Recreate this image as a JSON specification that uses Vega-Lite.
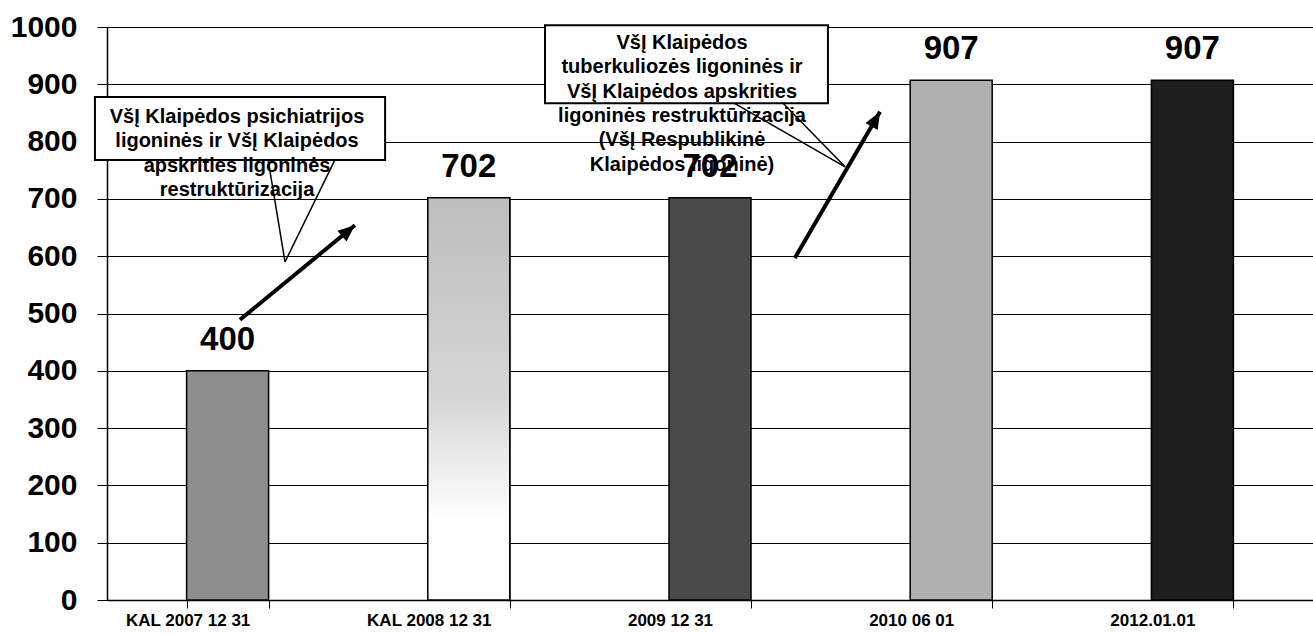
{
  "$schema": "https://vega.github.io/schema/vega-lite/v6.json",
  "autosize": {"type": "none"},
  "padding": {"left": 107, "top": 27, "right": 0, "bottom": 35},
  "width": 1206,
  "height": 573,
  "background": "white",
  "config": {
    "view": {"stroke": null},
    "font": "Liberation Sans"
  },
  "datasets": {
    "bars": [
      {"date": "KAL 2007 12 31", "beds": 400},
      {"date": "KAL 2008 12 31", "beds": 702},
      {"date": "2009 12 31", "beds": 702},
      {"date": "2010 06 01", "beds": 907},
      {"date": "2012.01.01", "beds": 907}
    ],
    "boxes": [
      {"x1": -0.05, "x2": 1.153, "y1": 768, "y2": 878},
      {"x1": 1.816, "x2": 2.989, "y1": 867, "y2": 1003}
    ],
    "notes": [
      {"x": 0.539, "y": 843, "text": "VšĮ Klaipėdos psichiatrijos\nligoninės  ir VšĮ Klaipėdos\napskrities ligoninės\nrestruktūrizacija"},
      {"x": 2.384, "y": 972, "text": "VšĮ Klaipėdos\ntuberkuliozės ligoninės  ir\nVšĮ Klaipėdos apskrities\nligoninės  restruktūrizacija\n(VšĮ Respublikinė\nKlaipėdos ligoninė)"}
    ],
    "callouts": [
      {"x": 0.668, "y": 768, "x2": 0.738, "y2": 590},
      {"x": 0.945, "y": 768, "x2": 0.738, "y2": 590},
      {"x": 2.6, "y": 867, "x2": 3.06, "y2": 756},
      {"x": 2.803, "y": 867, "x2": 3.06, "y2": 756}
    ],
    "arrows": [
      {"x": 0.551, "y": 489, "x2": 1.028, "y2": 654, "angle": 50},
      {"x": 2.852, "y": 597, "x2": 3.205, "y2": 852, "angle": 30}
    ]
  },
  "layer": [
    {
      "data": {"name": "bars"},
      "layer": [
        {
          "mark": {"type": "bar", "stroke": "black", "strokeWidth": 1.5},
          "encoding": {
            "x": {
              "field": "date", "type": "nominal", "sort": null,
              "scale": {"paddingInner": 0.66, "paddingOuter": 0.33},
              "axis": {
                "title": null, "labelAngle": 0, "labelFontSize": 17, "labelFontWeight": "bold",
                "labelColor": "black", "labelOffset": -40, "labelPadding": 4,
                "tickBand": "extent", "tickSize": 8, "tickColor": "black",
                "domainColor": "black", "domainWidth": 1.5, "grid": false
              }
            },
            "y": {
              "field": "beds", "type": "quantitative",
              "scale": {"domain": [0, 1000], "nice": false},
              "axis": {
                "title": null, "values": [0, 100, 200, 300, 400, 500, 600, 700, 800, 900, 1000],
                "format": "d",
                "labelFontSize": 30, "labelFontWeight": "bold", "labelColor": "black",
                "labelPadding": 20, "tickSize": 10, "tickColor": "black",
                "domainColor": "black", "domainWidth": 1.5,
                "grid": true, "gridColor": "black", "gridWidth": 1, "gridOpacity": 1
              }
            },
            "color": {
              "field": "date", "type": "nominal", "sort": null, "legend": null,
              "scale": {"range": ["#8e8e8e", "#d8d8d8", "#4a4a4a", "#b0b0b0", "#1e1e1e"]}
            }
          }
        },
        {
          "transform": [{"filter": "datum.date === 'KAL 2008 12 31'"}],
          "mark": {
            "type": "bar", "stroke": "black", "strokeWidth": 1.5,
            "fill": {
              "gradient": "linear", "x1": 0, "y1": 0, "x2": 0, "y2": 1,
              "stops": [
                {"offset": 0, "color": "#bdbdbd"},
                {"offset": 0.5, "color": "#d6d6d6"},
                {"offset": 0.8, "color": "#ffffff"},
                {"offset": 1, "color": "#ffffff"}
              ]
            }
          },
          "encoding": {
            "x": {"field": "date", "type": "nominal", "sort": null},
            "y": {"field": "beds", "type": "quantitative"}
          }
        }
      ]
    },
    {
      "data": {"name": "boxes"},
      "mark": {"type": "rect", "fill": "white", "stroke": "black", "strokeWidth": 2},
      "encoding": {
        "x": {"field": "x1", "type": "quantitative", "scale": {"domain": [0, 5], "nice": false, "zero": false}, "axis": null},
        "x2": {"field": "x2"},
        "y": {"field": "y1", "type": "quantitative", "scale": {"domain": [0, 1000], "nice": false, "zero": false}, "axis": null},
        "y2": {"field": "y2"}
      }
    },
    {
      "data": {"name": "callouts"},
      "mark": {"type": "rule", "stroke": "black", "strokeWidth": 1.5},
      "encoding": {
        "x": {"field": "x", "type": "quantitative", "scale": {"domain": [0, 5], "nice": false, "zero": false}, "axis": null},
        "x2": {"field": "x2"},
        "y": {"field": "y", "type": "quantitative", "scale": {"domain": [0, 1000], "nice": false, "zero": false}, "axis": null},
        "y2": {"field": "y2"}
      }
    },
    {
      "data": {"name": "notes"},
      "mark": {"type": "text", "lineBreak": "\n", "lineHeight": 24.3, "fontSize": 20, "fontWeight": "bold", "align": "center", "baseline": "middle", "color": "black"},
      "encoding": {
        "x": {"field": "x", "type": "quantitative", "scale": {"domain": [0, 5], "nice": false, "zero": false}, "axis": null},
        "y": {"field": "y", "type": "quantitative", "scale": {"domain": [0, 1000], "nice": false, "zero": false}, "axis": null},
        "text": {"field": "text"}
      }
    },
    {
      "data": {"name": "bars"},
      "mark": {"type": "text", "fontSize": 33, "fontWeight": "bold", "baseline": "alphabetic", "dy": -21, "color": "black"},
      "encoding": {
        "x": {"field": "date", "type": "nominal", "sort": null, "scale": {"paddingInner": 0.66, "paddingOuter": 0.33}, "axis": null},
        "y": {"field": "beds", "type": "quantitative", "scale": {"domain": [0, 1000], "nice": false}, "axis": null},
        "text": {"field": "beds"}
      }
    },
    {
      "data": {"name": "arrows"},
      "layer": [
        {
          "mark": {"type": "rule", "stroke": "black", "strokeWidth": 4},
          "encoding": {
            "x": {"field": "x", "type": "quantitative", "scale": {"domain": [0, 5], "nice": false, "zero": false}, "axis": null},
            "x2": {"field": "x2"},
            "y": {"field": "y", "type": "quantitative", "scale": {"domain": [0, 1000], "nice": false, "zero": false}, "axis": null},
            "y2": {"field": "y2"}
          }
        },
        {
          "mark": {"type": "point", "shape": "M0,0L0.5,1.2L-0.5,1.2Z", "filled": true, "color": "black", "size": 800, "opacity": 1},
          "encoding": {
            "x": {"field": "x2", "type": "quantitative", "scale": {"domain": [0, 5], "nice": false, "zero": false}, "axis": null},
            "y": {"field": "y2", "type": "quantitative", "scale": {"domain": [0, 1000], "nice": false, "zero": false}, "axis": null},
            "angle": {"field": "angle", "type": "quantitative", "scale": null}
          }
        }
      ]
    }
  ],
  "resolve": {"scale": {"x": "independent", "y": "independent", "color": "independent"}, "axis": {"x": "independent", "y": "independent"}}
}
